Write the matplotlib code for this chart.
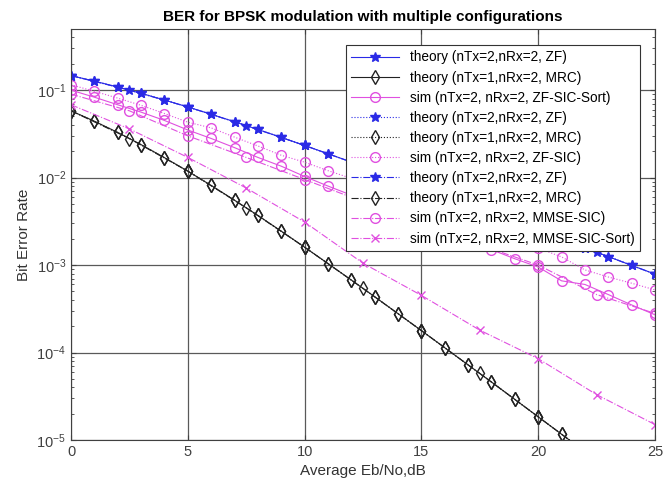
import matplotlib
matplotlib.use('Agg')
import matplotlib.pyplot as plt

plt.rcParams['font.family'] = ['Liberation Sans', 'DejaVu Sans']

# Eb/No grids (dB)
ebno_fine = list(range(0, 26))
ebno_coarse = [0, 2.5, 5, 7.5, 10, 12.5, 15, 17.5, 20, 22.5, 25]

# theory ZF (nTx=2, nRx=2)
zf_fine = [0.1464, 0.1267, 0.1085, 0.0919, 0.0771, 0.0642, 0.0530, 0.0435, 0.0355,
           0.0288, 0.0233, 0.01874, 0.01506, 0.01207, 0.00966, 0.00772, 0.00616,
           0.00491, 0.00392, 0.00312, 0.00248, 0.00197, 0.00157, 0.00125, 0.000991,
           0.000788]
zf_coarse = [0.1464, 0.0999, 0.0642, 0.0393, 0.0233, 0.01349, 0.00772, 0.00439,
             0.00248, 0.001398, 0.000788]

# theory MRC (nTx=1, nRx=2)
mrc_fine = [0.0580, 0.0441, 0.0328, 0.0238, 0.0169, 0.01184, 0.00813, 0.00551,
            0.00369, 0.00244, 0.00160, 0.00104, 0.000674, 0.000434, 0.000278,
            0.000178, 0.0001134, 7.21e-5, 4.60e-5, 2.91e-5, 1.84e-5, 1.163e-5,
            7.39e-6, 4.69e-6, 2.95e-6, 1.86e-6]
mrc_coarse = [0.0580, 0.02795, 0.01184, 0.00451, 0.00160, 0.000541, 0.000178,
              5.76e-5, 1.84e-5, 5.86e-6, 1.86e-6]

# simulated curves
zf_sic_sort = [0.100, 0.083, 0.068, 0.056, 0.045, 0.035, 0.028, 0.022, 0.017, 0.0135,
               0.0103, 0.0080, 0.0063, 0.0050, 0.0039, 0.0031, 0.0024, 0.0019, 0.0015,
               0.00118, 0.00095, 0.00066, 0.00060, 0.00046, 0.00035, 0.00027]
zf_sic = [0.115, 0.097, 0.081, 0.067, 0.054, 0.043, 0.037, 0.029, 0.023, 0.018, 0.015,
          0.012, 0.0098, 0.0080, 0.0066, 0.0053, 0.0043, 0.0035, 0.0028, 0.0021,
          0.00156, 0.00124, 0.00088, 0.00073, 0.00062, 0.00052]
mmse_sic = [0.090, 0.058, 0.030, 0.017, 0.0095, 0.0053, 0.0030, 0.0017, 0.00100,
            0.00046, 0.00028]
mmse_sic_sort = [0.068, 0.036, 0.017, 0.0076, 0.0031, 0.00105, 0.00045, 0.00018,
                 8.5e-5, 3.3e-5, 1.5e-5]

fig = plt.figure(figsize=(6.72, 4.88), dpi=100)
ax = fig.add_axes([0.1057, 0.0984, 0.8690, 0.8422])

blue = '#2a2ae6'
pink = '#e050e0'
lw = 0.8
star = dict(marker='*', markersize=7, color=blue, lw=lw)
dia = dict(marker='d', markersize=7, color='#222222', mfc='none', lw=lw)
circ = dict(marker='o', markersize=7, color=pink, mfc='none', lw=lw)

ax.semilogy(ebno_fine, zf_fine, ls='-', label='theory (nTx=2,nRx=2, ZF)', **star)
ax.semilogy(ebno_fine, mrc_fine, ls='-', label='theory (nTx=1,nRx=2, MRC)', **dia)
ax.semilogy(ebno_fine, zf_sic_sort, ls='-', label='sim (nTx=2, nRx=2, ZF-SIC-Sort)', **circ)
ax.semilogy(ebno_fine, zf_fine, ls=':', label='theory (nTx=2,nRx=2, ZF)', **star)
ax.semilogy(ebno_fine, mrc_fine, ls=':', label='theory (nTx=1,nRx=2, MRC)', **dia)
ax.semilogy(ebno_fine, zf_sic, ls=':', label='sim (nTx=2, nRx=2, ZF-SIC)', **circ)
ax.semilogy(ebno_coarse, zf_coarse, ls='-.', label='theory (nTx=2,nRx=2, ZF)', **star)
ax.semilogy(ebno_coarse, mrc_coarse, ls='-.', label='theory (nTx=1,nRx=2, MRC)', **dia)
ax.semilogy(ebno_coarse, mmse_sic, ls='-.', label='sim (nTx=2, nRx=2, MMSE-SIC)', **circ)
ax.semilogy(ebno_coarse, mmse_sic_sort, ls='-.', marker='x', markersize=6, color=pink,
            lw=lw, label='sim (nTx=2, nRx=2, MMSE-SIC-Sort)')

ax.set_xlim(0, 25)
ax.set_ylim(1e-5, 0.5)
ax.set_xticks([0, 5, 10, 15, 20, 25])
ax.grid(True, which='major', color='0.35', lw=0.9)
ax.tick_params(which='both', direction='in', top=True, right=True, labelsize=10.5,
               colors='0.25')
for s in ax.spines.values():
    s.set_color('0.25')

ax.set_xlabel('Average Eb/No,dB', fontsize=11, color='0.2')
ax.set_ylabel('Bit Error Rate', fontsize=11, color='0.2')
ax.set_title('BER for BPSK modulation with multiple configurations',
             fontsize=11, fontweight='bold')

leg = ax.legend(loc='upper right', bbox_to_anchor=(0.974, 0.961), fontsize=9.8,
                fancybox=False, edgecolor='0.2', framealpha=1, handlelength=3.5,
                borderaxespad=0, labelspacing=0.45)
leg.get_frame().set_linewidth(0.8)

fig.savefig('out.png', dpi=100)
